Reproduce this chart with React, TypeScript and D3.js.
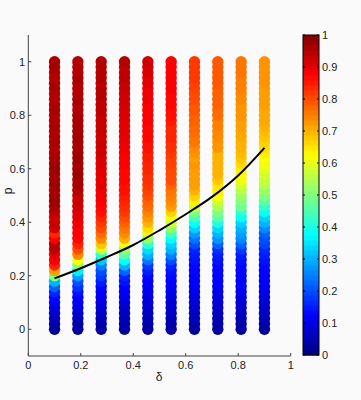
import React from "react";
import * as d3 from "d3";

// δ positions of the ten columns and p grid (0 .. 1 step 0.02)
const deltas = [0.1, 0.1889, 0.2778, 0.3667, 0.4556, 0.5444, 0.6333, 0.7222, 0.8111, 0.9];
const pGrid = Array.from({ length: 51 }, (_, i) => i / 50);

// colour values per column, bottom (p=0) to top (p=1)
const col1 = [0.03,0.04,0.05,0.07,0.09,0.11,0.13,0.16,0.22,0.30, 0.50,0.72,0.84,0.88,0.90,0.94,0.95,0.88,0.84,0.92, 0.93,0.92,0.94,0.96,0.97,0.97,0.96,0.97,0.97,0.96, 0.97,0.97,0.96,0.96,0.95,0.96,0.96,0.95,0.96,0.96, 0.95,0.96,0.96,0.95,0.95,0.96,0.96,0.95,0.95,0.96, 0.96];
const col2 = [0.03,0.04,0.05,0.07,0.09,0.11,0.12,0.14,0.17,0.20, 0.28,0.36,0.50,0.62,0.74,0.80,0.84,0.87,0.88,0.88, 0.89,0.90,0.91,0.92,0.93,0.93,0.95,0.96,0.96,0.97, 0.97,0.96,0.97,0.97,0.96,0.96,0.97,0.96,0.96,0.96, 0.96,0.95,0.95,0.96,0.95,0.95,0.95,0.96,0.95,0.95, 0.95];
const col3 = [0.03,0.04,0.05,0.06,0.08,0.09,0.10,0.12,0.13,0.15, 0.18,0.20,0.25,0.32,0.42,0.58,0.68,0.74,0.77,0.80, 0.82,0.84,0.86,0.87,0.88,0.89,0.89,0.90,0.90,0.90, 0.90,0.91,0.91,0.92,0.92,0.93,0.92,0.93,0.93,0.93, 0.93,0.94,0.94,0.94,0.95,0.95,0.94,0.95,0.95,0.95, 0.95];
const col4 = [0.03,0.04,0.05,0.06,0.07,0.08,0.10,0.11,0.12,0.14, 0.16,0.22,0.30,0.38,0.46,0.52,0.62,0.70,0.74,0.76, 0.78,0.80,0.82,0.83,0.84,0.85,0.86,0.86,0.87,0.87, 0.87,0.88,0.88,0.88,0.89,0.89,0.90,0.90,0.90,0.90, 0.91,0.91,0.92,0.92,0.92,0.93,0.93,0.94,0.94,0.94, 0.95];
const col5 = [0.03,0.04,0.05,0.06,0.07,0.08,0.09,0.10,0.11,0.12, 0.13,0.15,0.18,0.24,0.30,0.34,0.42,0.52,0.60,0.66, 0.70,0.73,0.75,0.77,0.78,0.80,0.81,0.82,0.83,0.83, 0.84,0.84,0.85,0.85,0.86,0.86,0.87,0.87,0.87,0.88, 0.88,0.88,0.88,0.89,0.89,0.89,0.90,0.90,0.91,0.91, 0.92];
const col6 = [0.03,0.04,0.05,0.06,0.07,0.08,0.09,0.10,0.11,0.12, 0.13,0.14,0.16,0.20,0.25,0.30,0.33,0.38,0.44,0.52, 0.58,0.62,0.67,0.72,0.74,0.75,0.76,0.78,0.80,0.80, 0.80,0.81,0.81,0.82,0.83,0.83,0.84,0.84,0.84,0.85, 0.86,0.86,0.87,0.87,0.87,0.88,0.88,0.88,0.88,0.88, 0.88];
const col7 = [0.03,0.04,0.05,0.06,0.07,0.08,0.09,0.10,0.11,0.12, 0.12,0.13,0.13,0.14,0.15,0.16,0.20,0.24,0.28,0.33, 0.38,0.44,0.50,0.58,0.64,0.67,0.70,0.72,0.72,0.72, 0.72,0.73,0.72,0.73,0.74,0.76,0.76,0.77,0.77,0.78, 0.78,0.79,0.79,0.80,0.80,0.81,0.81,0.82,0.82,0.82, 0.82];
const col8 = [0.03,0.04,0.05,0.06,0.07,0.08,0.09,0.10,0.11,0.12, 0.12,0.13,0.13,0.14,0.15,0.17,0.22,0.27,0.30,0.34, 0.40,0.46,0.50,0.54,0.58,0.62,0.64,0.65,0.68,0.70, 0.70,0.70,0.70,0.70,0.73,0.73,0.74,0.74,0.75,0.75, 0.77,0.77,0.78,0.78,0.78,0.78,0.79,0.79,0.79,0.79, 0.79];
const col9 = [0.03,0.04,0.05,0.06,0.07,0.08,0.09,0.10,0.11,0.12, 0.12,0.13,0.13,0.14,0.15,0.18,0.22,0.26,0.28,0.30, 0.33,0.38,0.42,0.48,0.50,0.52,0.55,0.58,0.61,0.63, 0.64,0.66,0.68,0.69,0.70,0.70,0.71,0.71,0.72,0.72, 0.73,0.73,0.73,0.74,0.74,0.75,0.75,0.75,0.76,0.76, 0.76];
const col10 = [0.03,0.04,0.05,0.06,0.07,0.08,0.09,0.10,0.11,0.12, 0.12,0.13,0.13,0.14,0.15,0.16,0.19,0.20,0.22,0.26, 0.30,0.33,0.38,0.42,0.46,0.50,0.52,0.55,0.57,0.58, 0.60,0.61,0.62,0.64,0.66,0.67,0.68,0.69,0.70,0.71, 0.71,0.71,0.72,0.72,0.72,0.72,0.73,0.73,0.73,0.73, 0.73];
const columns = [col1, col2, col3, col4, col5, col6, col7, col8, col9, col10];

// boundary curve
const curveDelta = [0.1, 0.2, 0.3, 0.4, 0.5, 0.6, 0.7, 0.8, 0.9];
const curveP = [0.19, 0.228, 0.27, 0.315, 0.37, 0.43, 0.495, 0.575, 0.678];

const xTicks = [0, 0.2, 0.4, 0.6, 0.8, 1];
const yTicks = [0, 0.2, 0.4, 0.6, 0.8, 1];
const cbTicks = [0, 0.1, 0.2, 0.3, 0.4, 0.5, 0.6, 0.7, 0.8, 0.9, 1];

const clamp = (v: number) => Math.max(0, Math.min(1, v));
function jet(v: number) {
  const r = clamp(1.5 - Math.abs(4 * v - 3));
  const g = clamp(1.5 - Math.abs(4 * v - 2));
  const b = clamp(1.5 - Math.abs(4 * v - 1));
  return d3.rgb(r * 255, g * 255, b * 255).formatHex();
}

export default function App() {
  const W = 361, H = 400;
  const x = d3.scaleLinear().domain([0, 1]).range([28.3, 290.7]);
  const y = d3.scaleLinear().domain([-0.1, 1.1]).range([356, 35]);
  const cb = d3.scaleLinear().domain([0, 1]).range([355, 35]);
  const cbX0 = 303, cbX1 = 319;
  const levels = d3.range(64);
  const axisColor = "#444";
  const font = "'Liberation Sans', Arial, sans-serif";

  const line = d3
    .line<number>()
    .x((_, i) => x(curveDelta[i]))
    .y((d) => y(d))
    .curve(d3.curveCatmullRom);

  return (
    <svg width={W} height={H} style={{ position: "absolute", left: 0, top: 0, background: "#fafafa" }} fontFamily={font}>
      <rect x={0} y={0} width={W} height={H} fill="#fafafa" />
      {/* dots */}
      {columns.map((vals, ci) => (
        <g key={ci}>
          {vals.map((v, i) => (
            <circle key={i} cx={x(deltas[ci])} cy={y(pGrid[i])} r={5.7} fill={jet(v)} />
          ))}
        </g>
      ))}
      {/* curve */}
      <path d={line(curveP) || ""} fill="none" stroke="#000" strokeWidth={2} />
      {/* axes */}
      <line x1={x(0)} x2={x(0)} y1={35} y2={356} stroke={axisColor} strokeWidth={1} />
      <line x1={x(0)} x2={x(1)} y1={356} y2={356} stroke={axisColor} strokeWidth={1} />
      {yTicks.map((t) => (
        <g key={"y" + t}>
          <line x1={x(0)} x2={x(0) + 3} y1={y(t)} y2={y(t)} stroke={axisColor} />
          <text x={25} y={y(t)} dy="0.35em" textAnchor="end" fontSize={11} fill="#222">
            {t}
          </text>
        </g>
      ))}
      {xTicks.map((t) => (
        <g key={"x" + t}>
          <line x1={x(t)} x2={x(t)} y1={356} y2={353} stroke={axisColor} />
          <text x={x(t)} y={369} textAnchor="middle" fontSize={11} fill="#222">
            {t}
          </text>
        </g>
      ))}
      <text x={159} y={381} textAnchor="middle" fontSize={12} fill="#222">
        δ
      </text>
      <text transform="translate(12,191) rotate(-90)" textAnchor="middle" fontSize={12} fill="#222">
        p
      </text>
      {/* colorbar */}
      {levels.map((l) => (
        <rect
          key={l}
          x={cbX0}
          width={cbX1 - cbX0}
          y={cb((l + 1) / 64)}
          height={cb(l / 64) - cb((l + 1) / 64) + 0.5}
          fill={jet((l + 0.5) / 64)}
        />
      ))}
      <rect x={cbX0} y={35} width={cbX1 - cbX0} height={320} fill="none" stroke="#000" strokeWidth={1} />
      {cbTicks.map((t) => (
        <g key={"c" + t}>
          <line x1={cbX0} x2={cbX0 + 2} y1={cb(t)} y2={cb(t)} stroke="#000" />
          <line x1={cbX1 - 2} x2={cbX1} y1={cb(t)} y2={cb(t)} stroke="#000" />
          <text x={322} y={cb(t)} dy="0.35em" fontSize={11} fill="#222">
            {t}
          </text>
        </g>
      ))}
    </svg>
  );
}
